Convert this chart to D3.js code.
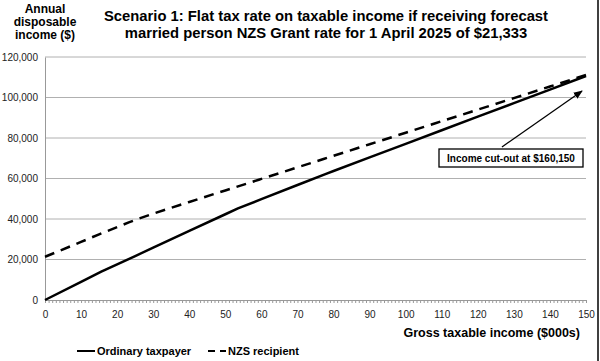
<!DOCTYPE html>
<html lang="en">
<head>
<meta charset="UTF-8">
<title>Scenario 1: flat tax rate</title>
<script src="https://cdn.jsdelivr.net/npm/d3@7"></script>
<style>
  body { margin:0; background:#fff; }
  svg { display:block; font-family: "Liberation Sans", Arial, sans-serif; }
  .tick text { font-size:10px; fill:#222; }
</style>
</head>
<body>
<svg id="chart" width="600" height="361"></svg>
<script>
  // income in $000s, disposable income in $
  const incomes = [0, 10, 15.6, 20, 25, 30, 40, 50, 53.5, 60, 70, 78.1, 80, 90, 100, 110, 120, 130, 140, 150];
  const ordinary = [0, 8950, 13962, 17592, 21717, 25842, 34092, 42342, 45230, 49779, 56779, 62450, 63723, 70423, 77123, 83823, 90523, 97223, 103923, 110623];
  const nzsIncomes = [0, 10, 15, 20, 25, 30, 40, 50, 60, 70, 80, 90, 100, 110, 120, 130, 140, 150];
  const nzs = [21333, 28700, 32400, 36000, 39500, 42600, 48400, 54100, 59800, 65500, 71200, 76900, 82600, 88300, 94000, 99700, 105400, 111100];
  const xTicks = d3.range(0, 151, 10);
  const yTicks = d3.range(0, 120001, 20000);
  const titleLines = ["Scenario 1: Flat tax rate on taxable income if receiving forecast",
                      "married person NZS Grant rate for 1 April 2025 of $21,333"];
  const yTitle = ["Annual", "disposable", "income ($)"];
  const note = {text: "Income cut-out at $160,150", from: [126.7, 75600], to: [148.9, 103200]};

  const svg = d3.select('#chart');
  const x = d3.scaleLinear().domain([0, 150]).range([45, 586]);
  const y = d3.scaleLinear().domain([0, 120000]).range([300, 57]);

  // grid
  svg.append('g').selectAll('line').data(yTicks.filter(d => d > 0)).join('line')
    .attr('x1', x(0)).attr('x2', x(150)).attr('y1', d => y(d)).attr('y2', d => y(d))
    .attr('stroke', '#b0b0b0').attr('stroke-width', 1);

  // y axis
  const ya = svg.append('g').attr('transform', `translate(${x(0)},0)`)
    .call(d3.axisLeft(y).tickValues(yTicks).tickSize(0).tickPadding(7).tickFormat(d3.format(',')));
  ya.select('.domain').attr('stroke', '#999');

  // x axis, minor ticks every 1
  const xa = svg.append('g').attr('transform', `translate(0,${y(0)})`)
    .call(d3.axisBottom(x).tickValues(d3.range(0, 151, 1)).tickSize(3).tickPadding(6)
      .tickFormat(d => xTicks.includes(d) ? d : ''));
  xa.select('.domain').attr('stroke', '#999');
  xa.selectAll('.tick line').attr('stroke', '#999');
  xa.selectAll('.tick text').attr('dy', '0.9em');

  // lines
  const line = d3.line().x(d => x(d[0])).y(d => y(d[1]));
  svg.append('path').datum(d3.zip(incomes, ordinary)).attr('d', line)
    .attr('fill', 'none').attr('stroke', '#000').attr('stroke-width', 2.5);
  svg.append('path').datum(d3.zip(nzsIncomes, nzs)).attr('d', line.curve(d3.curveMonotoneX))
    .attr('fill', 'none').attr('stroke', '#000').attr('stroke-width', 2.5)
    .attr('stroke-dasharray', '10,7');

  // annotation
  svg.append('defs').append('marker').attr('id', 'arr')
    .attr('viewBox', '0 0 10 10').attr('refX', 9).attr('refY', 5)
    .attr('markerWidth', 7).attr('markerHeight', 7).attr('orient', 'auto')
    .append('path').attr('d', 'M0,1L10,5L0,9z').attr('fill', '#000');
  svg.append('line')
    .attr('x1', x(note.from[0])).attr('y1', y(note.from[1]))
    .attr('x2', x(note.to[0])).attr('y2', y(note.to[1]))
    .attr('stroke', '#000').attr('stroke-width', 1.3).attr('marker-end', 'url(#arr)');
  svg.append('rect').attr('x', 439).attr('y', 149).attr('width', 144).attr('height', 18)
    .attr('fill', '#fff').attr('stroke', '#000').attr('stroke-width', 1.3);
  svg.append('text').attr('x', 511).attr('y', 162).attr('text-anchor', 'middle')
    .attr('font-size', 10).attr('font-weight', 'bold').text(note.text);

  // titles
  svg.append('text').attr('text-anchor', 'middle').attr('font-size', 14.8).attr('font-weight', 'bold')
    .selectAll('tspan').data(titleLines).join('tspan')
    .attr('x', 326).attr('y', (d, i) => 21 + i * 17).text(d => d);
  svg.append('text').attr('text-anchor', 'middle').attr('font-size', 12).attr('font-weight', 'bold')
    .selectAll('tspan').data(yTitle).join('tspan')
    .attr('x', 45).attr('y', (d, i) => 13 + i * 13).text(d => d);
  svg.append('text').attr('x', 580).attr('y', 337).attr('text-anchor', 'end')
    .attr('font-size', 12.5).attr('font-weight', 'bold').text('Gross taxable income ($000s)');

  // legend
  const legend = [{label: 'Ordinary taxpayer', x: 77, dash: null},
                  {label: 'NZS recipient', x: 208, dash: '7,5'}];
  const lg = svg.append('g').selectAll('g').data(legend).join('g')
    .attr('transform', d => `translate(${d.x},351)`);
  lg.append('line').attr('x1', 0).attr('x2', 18).attr('stroke', '#000').attr('stroke-width', 2)
    .attr('stroke-dasharray', d => d.dash);
  lg.append('text').attr('x', 20).attr('y', 4).attr('font-size', 11).attr('font-weight', 'bold').text(d => d.label);

  // right border
  svg.append('line').attr('x1', 598).attr('x2', 598).attr('y1', 0).attr('y2', 361)
    .attr('stroke', '#000').attr('stroke-width', 1.5);
</script>
</body>
</html>
